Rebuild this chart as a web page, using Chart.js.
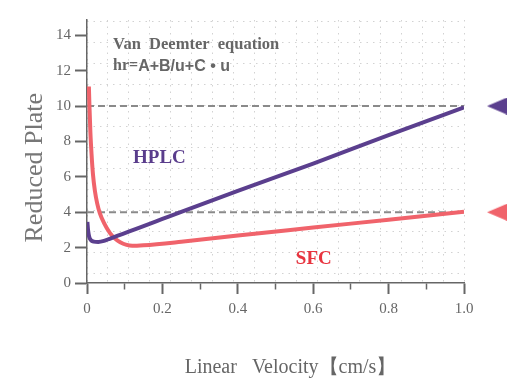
<!DOCTYPE html>
<html lang="en">
<head>
  <meta charset="UTF-8">
  <title>Van Deemter – HPLC vs SFC</title>
  <style>
    body { margin: 0; background: #fff; }
    #wrap { width: 520px; height: 380px; }
  </style>
</head>
<body>
  <div id="wrap"><canvas id="vdChart"></canvas></div>

  <script src="https://cdn.jsdelivr.net/npm/chart.js"></script>
  <script>
    // values
    const hplcVelocity = [0.001, 0.003, 0.006, 0.01, 0.018, 0.03, 0.045, 0.06, 0.08, 0.114, 0.15, 0.2, 0.25, 0.4, 0.6, 0.8, 1.0];
    const hplcPlate    = [3.45, 2.95, 2.6, 2.43, 2.34, 2.32, 2.38, 2.5, 2.66, 2.93, 3.22, 3.62, 4.02, 5.2, 6.75, 8.35, 9.92];

    const sfcVelocity = [0.005, 0.0065, 0.009, 0.012, 0.016, 0.021, 0.027, 0.034, 0.045, 0.061, 0.075, 0.088, 0.105, 0.12, 0.15, 0.25, 0.4, 0.6, 0.8, 1.0];
    const sfcPlate    = [11.1, 10.0, 8.5, 7.3, 6.1, 5.2, 4.5, 3.95, 3.4, 2.82, 2.5, 2.3, 2.15, 2.1, 2.13, 2.33, 2.68, 3.13, 3.58, 4.03];

    const guideLevels = [10, 4];          // dashed lines + side markers
    const markerVelocity = 1.0875;        // markers sit right of the axis end

    const xTickValues = [0, 0.1, 0.2, 0.3, 0.4, 0.5, 0.6, 0.7, 0.8, 0.9, 1.0];
    const xTickLabels = ['0', '', '0.2', '', '0.4', '', '0.6', '', '0.8', '', '1.0'];
    const yTickValues = [0, 2, 4, 6, 8, 10, 12, 14];
    const yTickLabels = ['0', '2', '4', '6', '8', '10', '12', '14'];

    const purple = '#5b3f8e';
    const coral = '#f0636b';
    const serif = '"Liberation Serif", "Times New Roman", serif';
    const sans = '"Liberation Sans", Arial, sans-serif';

    const notes = [
      { x: 0.069, y: 13.45, color: '#666', parts: [['Van  Deemter  equation', 'bold 16.5px ' + serif]] },
      { x: 0.069, y: 12.25, color: '#666', parts: [['hr=', 'bold 16px ' + serif], ['A+B/u+C \u2022 u', 'bold 16px ' + sans]] },
      { x: 0.122, y: 7.06, color: '#5a3d8c', parts: [['HPLC', 'bold 19px ' + serif]] },
      { x: 0.554, y: 1.36, color: '#e8343f', parts: [['SFC', 'bold 19px ' + serif]] }
    ];

    // left-pointing flag used as point style
    function arrowCanvas(color) {
      const c = document.createElement('canvas');
      c.width = 20; c.height = 17;
      const g = c.getContext('2d');
      g.fillStyle = color;
      g.beginPath();
      g.moveTo(0, 8.5);
      g.lineTo(20, 0);
      g.lineTo(20, 17);
      g.closePath();
      g.fill();
      return c;
    }

    const notesPlugin = {
      id: 'notes',
      afterDatasetsDraw(chart) {
        const { ctx, scales } = chart;
        ctx.save();
        ctx.textBaseline = 'middle';
        ctx.textAlign = 'left';
        notes.forEach(n => {
          let px = scales.x.getPixelForValue(n.x);
          const py = scales.y.getPixelForValue(n.y);
          ctx.fillStyle = n.color;
          n.parts.forEach(([text, font]) => {
            ctx.font = font;
            ctx.fillText(text, px, py);
            px += ctx.measureText(text).width;
          });
        });
        ctx.restore();
      }
    };

    const toPoints = (xs, ys) => xs.map((v, i) => ({ x: v, y: ys[i] }));
    const isMajor = v => Math.round(v * 10) % 2 === 0;

    // light dotted background grid (decorative, not tied to the labelled ticks)
    const gridX = Array.from({ length: 19 }, (_, k) => k / 18);
    const gridY = Array.from({ length: 13 }, (_, k) => 0.525 + k * 1.1855);

    const dotGrid = { color: '#d2d2d2', lineWidth: 1, drawTicks: false };
    const dotBorder = { display: false, dash: [1.5, 5] };

    new Chart(document.getElementById('vdChart'), {
      type: 'line',
      data: {
        datasets: [
          {
            label: 'HPLC',
            data: toPoints(hplcVelocity, hplcPlate),
            borderColor: purple,
            borderWidth: 4,
            pointRadius: 0,
            cubicInterpolationMode: 'monotone',
            xAxisID: 'x', yAxisID: 'y'
          },
          {
            label: 'SFC',
            data: toPoints(sfcVelocity, sfcPlate),
            borderColor: coral,
            borderWidth: 4,
            pointRadius: 0,
            cubicInterpolationMode: 'monotone',
            xAxisID: 'x', yAxisID: 'y'
          },
          ...guideLevels.map(lv => ({
            label: 'guide ' + lv,
            data: [{ x: 0, y: lv }, { x: 1, y: lv }],
            borderColor: '#8a8a8a',
            borderWidth: 2,
            borderDash: [7, 4],
            pointRadius: 0,
            xAxisID: 'x', yAxisID: 'y'
          })),
          {
            label: 'markers',
            data: guideLevels.map(lv => ({ x: markerVelocity, y: lv })),
            showLine: false,
            pointStyle: [arrowCanvas(purple), arrowCanvas(coral)],
            // big radius only widens the in-area check; the image keeps its own size
            pointRadius: 45,
            pointBorderWidth: 0,
            clip: false,
            xAxisID: 'mx', yAxisID: 'y'
          }
        ]
      },
      options: {
        responsive: true,
        maintainAspectRatio: false,
        animation: false,
        events: [],
        layout: { autoPadding: false, padding: { top: 20, right: 56, left: 0, bottom: 0 } },
        plugins: { legend: { display: false }, tooltip: { enabled: false } },
        scales: {
          x: {
            type: 'linear',
            position: 'bottom',
            min: 0, max: 1,
            afterBuildTicks: s => { s.ticks = xTickValues.map(v => ({ value: v })); },
            afterFit: s => { s.height = 97; },
            ticks: {
              autoSkip: false, maxRotation: 0, padding: 6,
              color: '#666', font: { family: serif, size: 15 },
              callback: (v, i) => xTickLabels[i]
            },
            grid: {
              drawOnChartArea: false,
              tickLength: 11,
              tickColor: '#666',
              tickWidth: c => (c.tick && isMajor(c.tick.value)) ? 2 : 1.5,
              tickBorderDash: c => (c.tick && isMajor(c.tick.value)) ? [] : [6, 30]
            },
            border: { color: '#666', width: 1.5 },
            title: {
              display: true,
              text: '      Linear   Velocity\u3010cm/s\u3011',
              color: '#666',
              font: { family: serif, size: 20 },
              padding: { top: 12, bottom: 0 }
            }
          },
          y: {
            type: 'linear',
            position: 'left',
            min: 0, max: 14.86,
            afterBuildTicks: s => { s.ticks = yTickValues.map(v => ({ value: v })); },
            afterFit: s => { s.width = 87; },
            ticks: {
              padding: 4,
              color: '#666', font: { family: serif, size: 15 },
              callback: (v, i) => yTickLabels[i]
            },
            grid: { drawOnChartArea: false, tickLength: 12, tickColor: '#666', tickWidth: 2 },
            border: { color: '#666', width: 1.5 },
            title: {
              display: true,
              text: 'Reduced Plate     ',
              color: '#777',
              font: { family: serif, size: 26 },
              padding: { top: 20, bottom: 0 }
            }
          },
          gx: {
            axis: 'x', type: 'linear', position: 'bottom',
            min: 0, max: 1,
            afterBuildTicks: s => { s.ticks = gridX.map(v => ({ value: v })); },
            afterFit: s => { s.height = 0; },
            ticks: { display: false },
            border: dotBorder,
            grid: dotGrid
          },
          gy: {
            axis: 'y', type: 'linear', position: 'left',
            min: 0, max: 14.86,
            afterBuildTicks: s => { s.ticks = gridY.map(v => ({ value: v })); },
            afterFit: s => { s.width = 0; },
            ticks: { display: false },
            border: dotBorder,
            grid: dotGrid
          },
          // same span as x, but without user bounds so the side markers are kept
          mx: {
            axis: 'x', type: 'linear', display: false, bounds: 'data',
            afterDataLimits: s => { s.min = 0; s.max = 1; }
          }
        }
      },
      plugins: [notesPlugin]
    });
  </script>
</body>
</html>
